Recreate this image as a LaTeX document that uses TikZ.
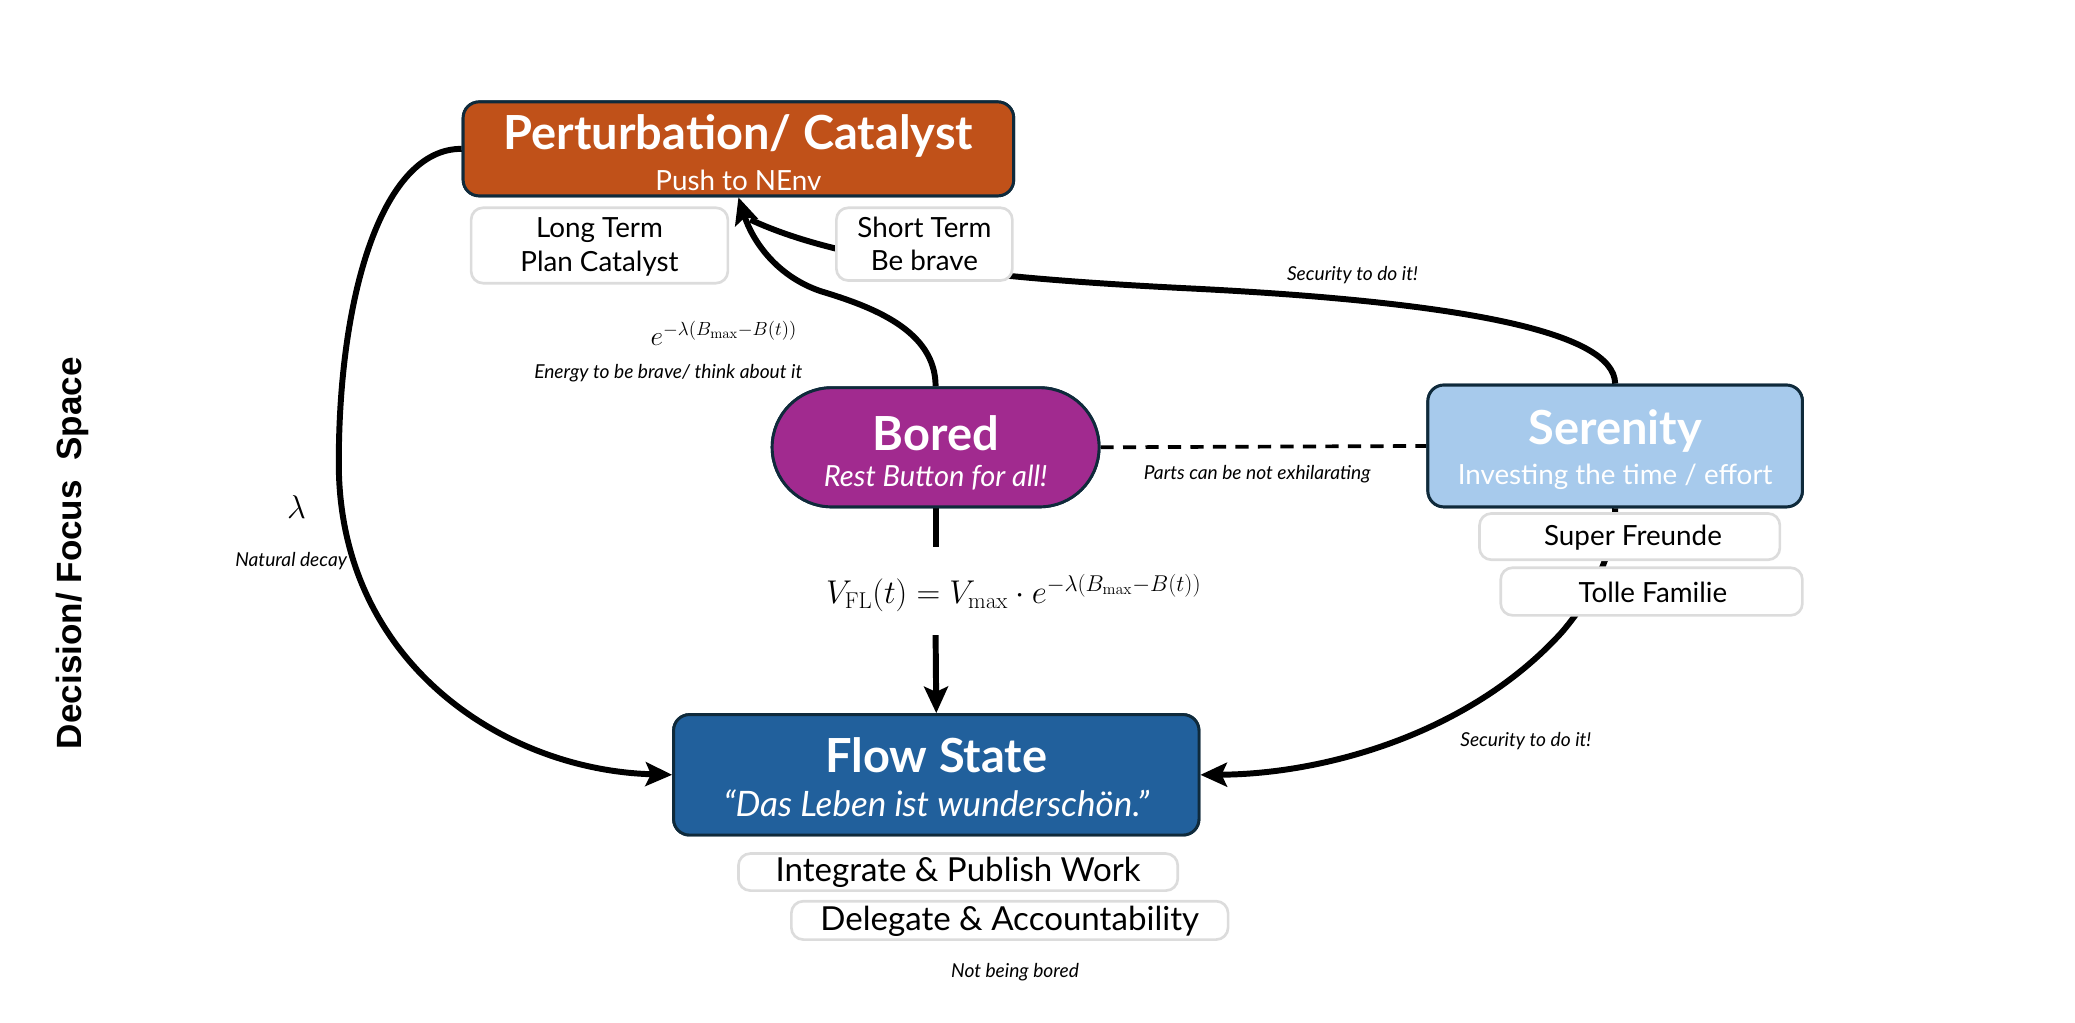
\documentclass[tikz,border=0pt]{standalone}
\usepackage{amsmath}
\usepackage[no-math]{fontspec}
\setmainfont{Lato}
\newfontfamily\arialf{Liberation Sans}
\usetikzlibrary{arrows.meta}
\definecolor{pertc}{HTML}{C05119}
\definecolor{boredc}{HTML}{A12A8F}
\definecolor{serenc}{HTML}{A7CAEC}
\definecolor{flowc}{HTML}{21609C}
\definecolor{bordc}{HTML}{0F2A3B}
\definecolor{tagc}{HTML}{DCDCDC}
\newcommand{\fs}[1]{\fontsize{#1}{#1}\selectfont}
\begin{document}
\begin{tikzpicture}[x=1pt,y=-1pt,
  statebox/.style={draw=bordc, line width=2.2pt, rounded corners=12pt, inner sep=0pt},
  tagbox/.style={draw=tagc, fill=white, line width=2pt, rounded corners=9pt, inner sep=0pt},
  conn/.style={line width=4.5pt, draw=black},
  tipped/.style={conn, -{Stealth[length=20pt,width=18pt,inset=4pt]}},
  ttl/.style={text=white, font=\fs{35.5}\bfseries, inner sep=0pt},
  sub/.style={text=white, font=\fs{21}, inner sep=0pt},
  tagtxt/.style={text=black, font=\fs{21}, inner sep=0pt},
  note/.style={text=black, font=\fs{14.5}\itshape, inner sep=0pt},
  mth/.style={text=black, inner sep=0pt}
]
\useasboundingbox (0,0) rectangle (1568,773);
% ---- state boxes (drawn first to define anchors)
\node[statebox, fill=pertc, minimum width=416pt, minimum height=71pt] (pert) at (558,112.5) {};
\node[statebox, fill=boredc, minimum width=247pt, minimum height=90pt, rounded corners=44.9pt] (bored) at (707,338) {};
\node[statebox, fill=serenc, minimum width=283pt, minimum height=92pt] (seren) at (1220.5,337) {};
\node[statebox, fill=flowc, minimum width=397pt, minimum height=91pt] (flow) at (707.5,585.5) {};
% ---- connectors
\coordinate (merge) at (567,166);
\coordinate (vtop) at (707,413);
\coordinate (vbot) at (707,480);
\draw[tipped] (pert.west) .. controls (290,112) and (256,220) .. (256,350)
   .. controls (256,500) and (380,582) .. (flow.west);
\draw[tipped] (bored.north) .. controls (707,250) and (660,232) .. (620,220)
   .. controls (585,208) and (568,180) .. (pert.south);
\draw[conn] (seren.north) .. controls (1220,250) and (1100,228) .. (900,218)
   .. controls (760,211) and (640,200) .. (merge);
\draw[tipped] (seren.south) .. controls (1220,420) and (1200,455) .. (1180,478)
   .. controls (1110,555) and (1000,585) .. (flow.east);
\draw[line width=2.8pt, dash pattern=on 10pt off 7pt] (bored.east) -- (seren.west);
\draw[conn] (bored.south) -- (vtop);
\draw[tipped] (vbot) -- (flow.north);
% ---- redraw boxes on top of lines
\node[statebox, fill=pertc, minimum width=416pt, minimum height=71pt] (pert2) at (pert) {};
\node[statebox, fill=boredc, minimum width=247pt, minimum height=90pt, rounded corners=44.9pt] (bored2) at (bored) {};
\node[statebox, fill=serenc, minimum width=283pt, minimum height=92pt] (seren2) at (seren) {};
\node[statebox, fill=flowc, minimum width=397pt, minimum height=91pt] (flow2) at (flow) {};
% ---- tag boxes
\node[tagbox, minimum width=194pt, minimum height=57pt] (longt) at (453,185.5) {};
\node[tagbox, minimum width=133pt, minimum height=55pt] (shortt) at (698.5,184.5) {};
\node[tagbox, minimum width=227pt, minimum height=35pt] (super) at (1231.5,405.5) {};
\node[tagbox, minimum width=228pt, minimum height=36pt] (tolle) at (1248,447) {};
\node[tagbox, minimum width=332pt, minimum height=28pt] (integ) at (724,659) {};
\node[tagbox, minimum width=330pt, minimum height=29pt] (deleg) at (763,695.5) {};
% ---- texts
\node[ttl] (pertT) at (558,103) {Perturbation/ Catalyst};
\node[sub] (pertS) at (558,136) {Push to NEnv};
\node[ttl] (boredT) at (707,327) {Bored};
\node[sub, font=\fs{22}\itshape] (boredS) at (707,361) {Rest Button for all!};
\node[ttl] (serenT) at (1220.5,326) {Serenity};
\node[sub] (serenS) at (1220.5,360) {Investing the time / effort};
\node[ttl] (flowT) at (707.5,571) {Flow State};
\node[sub, font=\fs{26.5}\itshape] (flowS) at (707.5,607) {“Das Leben ist wunderschön.”};
\node[tagtxt] (longA) at (453,174) {Long Term};
\node[tagtxt] (longB) at (453,199) {Plan Catalyst};
\node[tagtxt] (shortA) at (698.5,172) {Short Term};
\node[tagtxt] (shortB) at (698.5,197) {Be brave};
\node[tagtxt] (superT) at (1234,406) {Super Freunde};
\node[tagtxt] (tolleT) at (1249,448) {Tolle Familie};
\node[tagtxt, font=\fs{25}] (integT) at (724,659) {Integrate \& Publish Work};
\node[tagtxt, font=\fs{25}] (delegT) at (763,696) {Delegate \& Accountability};
% annotations
\node[note] (notbored) at (767,735) {Not being bored};
\node[note] (natdec) at (220,424) {Natural decay};
\node[note] (energy) at (505,282) {Energy to be brave/ think about it};
\node[note] (sec1) at (1022,208) {Security to do it!};
\node[note] (sec2) at (1153,560) {Security to do it!};
\node[note] (parts) at (950,358) {Parts can be not exhilarating};
\node[mth, font=\fs{24}] (lam) at (224,383) {$\lambda$};
\node[mth, font=\fs{21.5}] (eeq) at (547,252) {$e^{-\lambda(B_{\max}-B(t))}$};
\node[mth, font=\fs{26}] (veq) at (766,448) {$V_{\mathrm{FL}}(t) = V_{\max}\cdot e^{-\lambda(B_{\max}-B(t))}$};
\node[rotate=90, font=\arialf\bfseries\fs{26.5}, inner sep=0pt] (side) at (55,418) {Decision/ Focus\ \ Space};
\end{tikzpicture}
\end{document}
